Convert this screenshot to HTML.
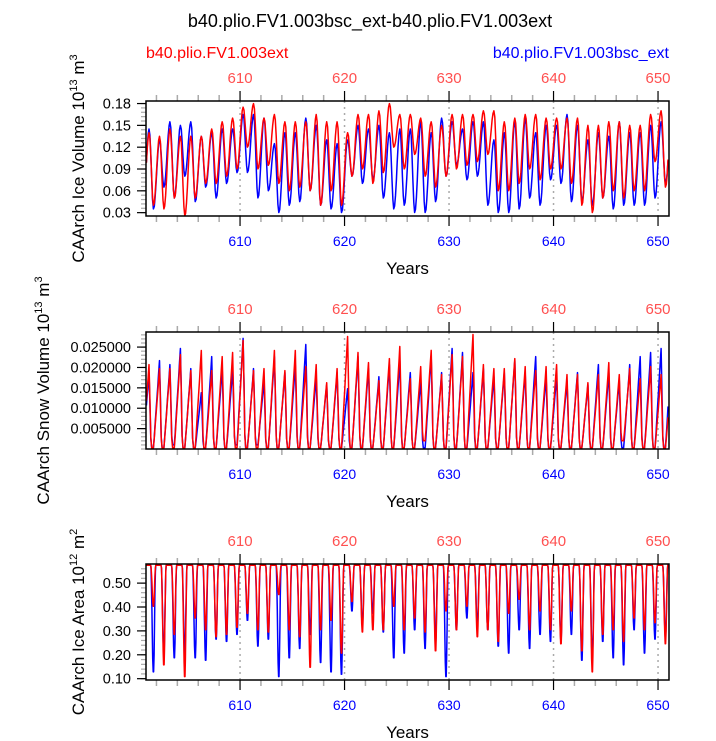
<!DOCTYPE html>
<html><head><meta charset="utf-8"><style>
body{margin:0;background:#fff;}
svg{display:block;font-family:"Liberation Sans",Arial,sans-serif;}
</style></head><body>
<svg id="chart" width="716" height="741" viewBox="0 0 716 741" xmlns="http://www.w3.org/2000/svg">
<text x="370" y="27" font-size="18" text-anchor="middle">b40.plio.FV1.003bsc_ext-b40.plio.FV1.003ext</text>
<text x="146" y="58" font-size="16" fill="#ff0000">b40.plio.FV1.003ext</text>
<text x="669" y="58" font-size="16" fill="#0000ff" text-anchor="end">b40.plio.FV1.003bsc_ext</text>
</svg>
<script>
const years = [601,602,603,604,605,606,607,608,609,610,611,612,613,614,615,616,617,618,619,620,621,622,623,624,625,626,627,628,629,630,631,632,633,634,635,636,637,638,639,640,641,642,643,644,645,646,647,648,649,650];
const xTicks = [610,620,630,640,650];
const iceRedMax = [.14,.135,.145,.135,.135,.135,.145,.155,.16,.175,.18,.16,.165,.155,.155,.155,.165,.155,.155,.14,.165,.165,.17,.18,.165,.165,.16,.155,.15,.165,.165,.165,.17,.17,.155,.16,.165,.165,.16,.16,.16,.16,.15,.15,.155,.155,.15,.15,.165,.17];
const iceRedMin = [.04,.035,.05,.025,.05,.07,.07,.08,.09,.12,.09,.095,.07,.06,.065,.06,.04,.06,.04,.08,.09,.07,.085,.12,.09,.11,.08,.065,.08,.09,.095,.1,.11,.06,.06,.07,.09,.075,.09,.09,.07,.04,.03,.05,.06,.05,.06,.06,.1,.065];
const iceBlueMax = [.145,.13,.155,.15,.155,.135,.14,.145,.145,.165,.165,.16,.125,.14,.14,.16,.15,.13,.125,.13,.15,.145,.15,.14,.145,.145,.155,.14,.16,.155,.145,.155,.155,.13,.14,.155,.16,.14,.15,.15,.165,.15,.13,.14,.135,.155,.14,.14,.15,.155];
const iceBlueMin = [.035,.065,.05,.08,.045,.065,.05,.07,.085,.085,.05,.06,.03,.04,.045,.06,.04,.035,.03,.08,.07,.075,.05,.035,.04,.03,.03,.045,.08,.095,.075,.08,.04,.03,.03,.035,.05,.04,.075,.07,.045,.045,.04,.05,.035,.04,.04,.04,.05,.07];
const snowRedMax = [.021,.020,.020,.0235,.0195,.0245,.0195,.023,.024,.027,.0195,.020,.0245,.0195,.0245,.0205,.021,.0165,.020,.028,.024,.0215,.017,.0225,.0255,.0175,.0205,.0245,.0185,.0235,.023,.0285,.021,.020,.020,.0225,.0205,.0195,.0205,.021,.0185,.0185,.0165,.0185,.0215,.0185,.020,.0175,.0205,.0185];
const snowBlueMax = [.019,.022,.021,.025,.020,.014,.023,.020,.020,.0275,.020,.017,.023,.019,.021,.026,.018,.016,.019,.015,.023,.020,.018,.021,.022,.019,.017,.023,.019,.025,.024,.019,.020,.018,.019,.022,.019,.023,.018,.018,.017,.019,.016,.021,.019,.017,.021,.023,.024,.025];
const snowRedMin = [.0003,.0003,.0003,.0003,.0003,.0003,.0003,.0003,.0003,.0003,.0003,.0003,.0003,.0003,.0003,.0003,.0003,.0003,.0003,.0003,.0003,.0003,.0003,.0003,.0003,.0003,.002,.0003,.0003,.0003,.0003,.0003,.0003,.0003,.0003,.0003,.0003,.0003,.0003,.0003,.0003,.0003,.0003,.0003,.0003,.002,.0003,.0003,.0003,.0003];
const snowBlueMin = [.0003,.0003,.001,.0003,.0003,.0003,.0003,.0003,.001,.0003,.001,.0003,.0003,.0003,.0003,.0003,.0003,.0003,.0003,.0003,.0003,.0003,.0003,.0003,.0003,.0003,.0003,.0003,.0003,.0003,.0003,.0003,.0003,.0003,.0003,.0003,.0003,.0003,.0003,.0003,.0003,.0003,.0003,.0003,.0003,.0003,.0003,.0003,.0003,.0003];
const areaRedMin = [.40,.15,.28,.10,.35,.30,.27,.28,.31,.37,.30,.29,.45,.30,.27,.14,.30,.34,.20,.42,.29,.30,.30,.40,.30,.35,.29,.21,.38,.30,.40,.27,.30,.25,.37,.43,.30,.38,.30,.24,.38,.21,.12,.28,.30,.25,.35,.30,.33,.24];
const areaBlueMin = [.12,.20,.18,.20,.18,.17,.26,.25,.28,.34,.23,.26,.10,.18,.22,.28,.16,.12,.11,.38,.32,.37,.29,.18,.20,.30,.22,.25,.10,.30,.35,.32,.30,.23,.20,.30,.22,.28,.25,.26,.28,.17,.18,.25,.18,.15,.30,.20,.26,.27];
const areaMax = 0.575;
const iceTicks = [0.03,0.06,0.09,0.12,0.15,0.18];
const iceTickLabels = ["0.03","0.06","0.09","0.12","0.15","0.18"];
const snowTicks = [0.005,0.01,0.015,0.02,0.025];
const snowTickLabels = ["0.005000","0.010000","0.015000","0.020000","0.025000"];
const areaTicks = [0.1,0.2,0.3,0.4,0.5];
const areaTickLabels = ["0.10","0.20","0.30","0.40","0.50"];

const NS = "http://www.w3.org/2000/svg";
const svg = document.getElementById('chart');
function mk(tag, attrs, parent){const e=document.createElementNS(NS,tag);for(const k in attrs)e.setAttribute(k,attrs[k]);(parent||svg).appendChild(e);return e;}
const X0=146,X1=669,XMIN=601,XMAX=651.05;
const xs = v => X0+(v-XMIN)/(XMAX-XMIN)*(X1-X0);

function series(ext, smooth, perMonth){
  const pts=[];
  const n=perMonth||1;
  for(let i=0;i<years.length;i++){
    for(let m=0;m<12*n;m++){
      const t=years[i]+m/(12*n)+1/(24*n);
      let k=0; while(k<ext.length-2 && ext[k+1][0]<t) k++;
      const a=ext[k],b=ext[k+1];
      let f=(t-a[0])/(b[0]-a[0]); f=Math.max(0,Math.min(1,f));
      if(smooth) f=(1-Math.cos(Math.PI*f))/2;
      pts.push([t,a[1]+(b[1]-a[1])*f]);
    }
  }
  return pts;
}
function iceExt(mx,mn){const e=[];years.forEach((y,i)=>{e.push([y+0.3,mx[i]]);e.push([y+0.72,mn[i]]);});e.unshift([years[0]-0.28,mn[0]]);e.push([years[years.length-1]+1.3,mx[mx.length-1]]);return e;}
function snowExt(mx,mn){const e=[];years.forEach((y,i)=>{e.push([y+0.3,mx[i]]);e.push([y+0.48,mn[i]]);e.push([y+0.72,mn[i]]);});e.unshift([years[0]-0.28,mn[0]]);e.push([years[years.length-1]+1.3,mx[mx.length-1]]);return e;}
function areaExt(mn){const e=[];years.forEach((y,i)=>{e.push([y+0.45,areaMax]);e.push([y+0.71,mn[i]]);e.push([y+0.93,areaMax]);});e.unshift([years[0],areaMax]);e.push([years[years.length-1]+1.1,areaMax]);return e;}

function panel(name, top, bot, ymin, ymax, ticks, labels, minorStep, title, titleX, blue, red){
  const ys = v => bot-(v-ymin)/(ymax-ymin)*(bot-top);
  const g=mk('g',{});
  
  
  xTicks.forEach(v=>{const l=mk('line',{x1:xs(v),x2:xs(v),y1:top,y2:bot,stroke:'#aaa','stroke-width':1.5,'stroke-dasharray':'2,4'},g);
    
    });
  for(let v=602;v<=650;v+=2){ if(v%10===0) continue;
    mk('line',{x1:xs(v),x2:xs(v),y1:top-6,y2:top,stroke:'#aaa','stroke-width':1.5},g);
    mk('line',{x1:xs(v),x2:xs(v),y1:bot,y2:bot+6,stroke:'#aaa','stroke-width':1.5},g);}
  xTicks.forEach(v=>{
    mk('line',{x1:xs(v),x2:xs(v),y1:top-10,y2:top,stroke:'#000','stroke-width':1.2},g);
    mk('line',{x1:xs(v),x2:xs(v),y1:bot,y2:bot+10,stroke:'#000','stroke-width':1.2},g);
    const t1=mk('text',{x:xs(v),y:top-18,'font-size':15,fill:'#ff5050','text-anchor':'middle'},g);t1.textContent=v;
    
    
    const t2=mk('text',{x:xs(v),y:bot+30,'font-size':14,fill:'#0000ff','text-anchor':'middle'},g);t2.textContent=v;
    
    
  });
  for(let v=Math.ceil(ymin/minorStep)*minorStep; v<=ymax; v+=minorStep){
    mk('line',{x1:X0-5,x2:X0,y1:ys(v),y2:ys(v),stroke:'#aaa','stroke-width':1.2},g);}
  ticks.forEach((v,i)=>{
    mk('line',{x1:X0-9,x2:X0,y1:ys(v),y2:ys(v),stroke:'#000','stroke-width':1.2},g);
    const t=mk('text',{x:X0-15,y:ys(v)+5,'font-size':14.5,'text-anchor':'end'},g);t.textContent=labels[i];
    
    
  });
  const cp=mk('clipPath',{id:'cp-'+name},g);mk('rect',{x:X0,y:top,width:X1-X0,height:bot-top},cp);
  [[blue,'#0000ff','blue'],[red,'#ff0000','red']].forEach(([pts,c,n])=>{
    const d=pts.map((p,i)=>(i?'L':'M')+xs(p[0]).toFixed(1)+','+ys(p[1]).toFixed(1)).join('');
    const p=mk('path',{d:d,fill:'none',stroke:c,'stroke-width':1.5,'stroke-linejoin':'round','clip-path':'url(#cp-'+name+')'},g);
    
    
  });
  const fr=mk('rect',{x:X0,y:top,width:X1-X0,height:bot-top,fill:'none',stroke:'#000','stroke-width':1.5},g);
  
  
  const xt=mk('text',{x:(X0+X1)/2,y:bot+58,'font-size':17,'text-anchor':'middle'},g);xt.textContent='Years';
  
  
  const cy=(top+bot)/2;
  const yt=mk('text',{x:titleX,y:cy,'font-size':17,'text-anchor':'middle',transform:'rotate(-90 '+titleX+' '+cy+')'},g);
  yt.innerHTML=title;
  
  
}
panel('ice-volume',101,216,0.0254,0.1835,iceTicks,iceTickLabels,0.006,
  'CAArch Ice Volume 10<tspan font-size="11" dy="-7">13</tspan><tspan dy="7"> m</tspan><tspan font-size="11" dy="-7">3</tspan>',84,
  series(iceExt(iceBlueMax,iceBlueMin),true), series(iceExt(iceRedMax,iceRedMin),true));
panel('snow-volume',332,449,0,0.0287,snowTicks,snowTickLabels,0.001,
  'CAArch Snow Volume 10<tspan font-size="11" dy="-7">13</tspan><tspan dy="7"> m</tspan><tspan font-size="11" dy="-7">3</tspan>',49,
  series(snowExt(snowBlueMax,snowBlueMin),false), series(snowExt(snowRedMax,snowRedMin),false));
panel('ice-area',564,680,0.0945,0.58,areaTicks,areaTickLabels,0.02,
  'CAArch Ice Area 10<tspan font-size="11" dy="-7">12</tspan><tspan dy="7"> m</tspan><tspan font-size="11" dy="-7">2</tspan>',84,
  series(areaExt(areaBlueMin),true,2), series(areaExt(areaRedMin),true,2));
</script>
</body></html>
